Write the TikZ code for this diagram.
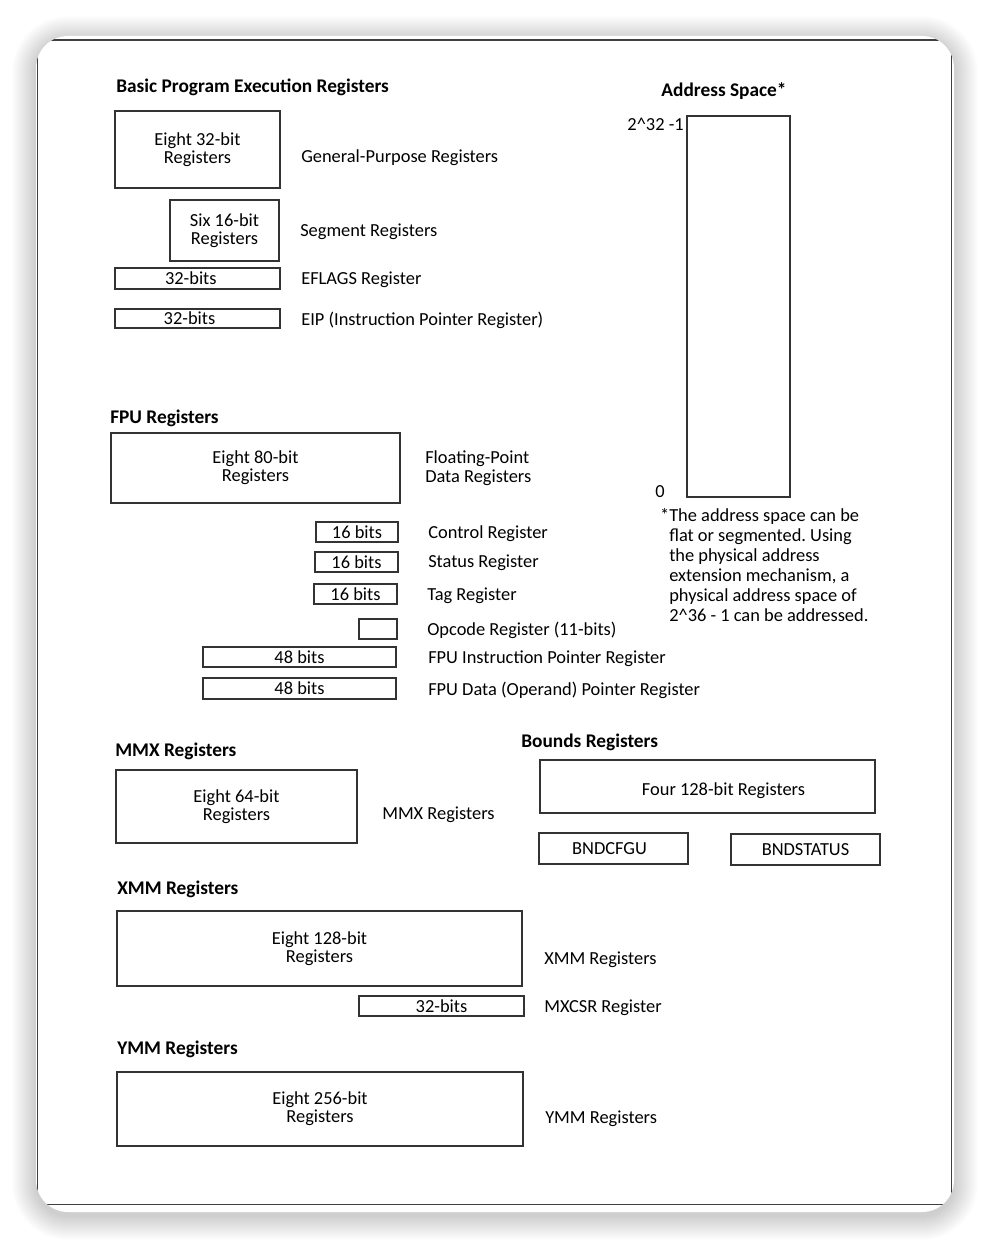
\documentclass[tikz,border=0pt]{standalone}
\usepackage{fontspec}
\setmainfont{Carlito}
\frenchspacing
\newcommand\regbox[6]{%
  \node[box, minimum width={(#4-#2)*0.75pt}, minimum height={(#5-#3)*0.75pt}] (#1) at ({(#2+#4)/2},{(#3+#5)/2}) {#6};}
\begin{document}
\begin{tikzpicture}[x=0.75pt,y=-0.75pt,
  rfont/.style={font=\fontsize{13.8}{13.6}\selectfont},
  txt/.style={inner sep=0pt, rfont, text height=11pt, text depth=2pt},
  box/.style={draw=black!80, line width=0.9pt, inner sep=0pt, align=center, rfont},
  lbl/.style={txt, anchor=west, align=left},
  ttl/.style={txt, anchor=west, font=\fontsize{14.5}{16}\selectfont\bfseries}]
\useasboundingbox (0,0) rectangle (990,1248);
% shadow
\foreach \i in {1,...,24}
  \fill[black, opacity=0.006, rounded corners={(24+0.75*\i)*1pt}] (36-\i,40-\i) rectangle (954+\i,1216+\i);
\fill[white, rounded corners=24pt] (36,36) rectangle (954,1212);
\begin{scope}
  \clip[rounded corners=24pt] (36,36) rectangle (954,1212);
  \draw[black!75, line width=1pt] (37.5,40) rectangle (951.5,1204.5);
\end{scope}

% Basic program execution registers
\node[ttl] (tbasic) at (116,87) {Basic Program Execution Registers};
\regbox{gp}{115}{111}{280}{188}{Eight 32-bit\\Registers}
\node[lbl] (lgp) at (301,157) {General-Purpose Registers};
\regbox{seg}{170}{200}{279}{261}{Six 16-bit\\Registers}
\node[lbl] (lseg) at (300,231) {Segment Registers};
\regbox{efl}{115}{268}{280}{289}{\hspace*{-10pt}32-bits}
\node[lbl] (lefl) at (301,278) {EFLAGS Register};
\regbox{eip}{115}{309}{280}{328}{\hspace*{-12pt}32-bits}
\node[lbl] (leip) at (301,319) {EIP (Instruction Pointer Register)};

% Address space
\node[txt, font=\fontsize{14.5}{16}\selectfont\bfseries] (taddr) at (724,91) {Address Space*};
\regbox{addr}{687}{116}{790}{497}{}
\node[txt, anchor=east] (ltop) at (684,125) {2\^{}32 -1};
\node[txt, anchor=west] (lzero) at (655,491) {0};
\node[anchor=north west, inner sep=0pt, align=left, font=\fontsize{13.8}{15}\selectfont] (note) at (669,508)
  {\llap{*}The address space can be\\flat or segmented. Using\\the physical address\\extension mechanism, a\\physical address space of\\2\^{}36 - 1 can be addressed.};

% FPU
\node[ttl] (tfpu) at (110,417) {FPU Registers};
\regbox{fpd}{111}{433}{400}{503}{Eight 80-bit\\Registers}
\node[lbl] (lfpd) at (425,476) {Floating-Point\\Data Registers};
\regbox{ctl}{316}{522}{398}{542}{16 bits}
\node[lbl] (lctl) at (428,532) {Control Register};
\regbox{sts}{315}{552}{398}{572}{16 bits}
\node[lbl] (lsts) at (428,561) {Status Register};
\regbox{tag}{314}{584}{397}{604}{16 bits}
\node[lbl] (ltag) at (427,594) {Tag Register};
\regbox{opc}{359}{619}{397}{639}{}
\node[lbl] (lopc) at (427,629) {Opcode Register (11-bits)};
\regbox{fip}{203}{647}{396}{667}{48 bits}
\node[lbl] (lfip) at (428,657) {FPU Instruction Pointer Register};
\regbox{fdp}{203}{678}{396}{699}{48 bits}
\node[lbl] (lfdp) at (428,689) {FPU Data (Operand) Pointer Register};

% MMX
\node[ttl] (tmmx) at (115,750) {MMX Registers};
\regbox{mmx}{116}{770}{357}{843}{Eight 64-bit\\Registers}
\node[lbl] (lmmx) at (382,813) {MMX Registers};

% Bounds
\node[ttl] (tbnd) at (521,741) {Bounds Registers};
\regbox{bnd}{540}{760}{875}{813}{\hspace*{24pt}\raisebox{-7pt}[0pt][0pt]{Four 128-bit Registers}}
\regbox{cfg}{539}{833}{688}{864}{\hspace*{-6pt}BNDCFGU}
\regbox{bst}{731}{834}{880}{865}{BNDSTATUS}

% XMM
\node[ttl] (txmm) at (117,888) {XMM Registers};
\regbox{xmm}{117}{911}{522}{986}{Eight 128-bit\\Registers}
\node[lbl] (lxmm) at (544,958) {XMM Registers};
\regbox{mxc}{359}{996}{524}{1016}{32-bits}
\node[lbl] (lmxc) at (544,1006) {MXCSR Register};

% YMM
\node[ttl] (tymm) at (117,1048) {YMM Registers};
\regbox{ymm}{117}{1072}{523}{1146}{Eight 256-bit\\Registers}
\node[lbl] (lymm) at (545,1117) {YMM Registers};
\end{tikzpicture}
\end{document}
